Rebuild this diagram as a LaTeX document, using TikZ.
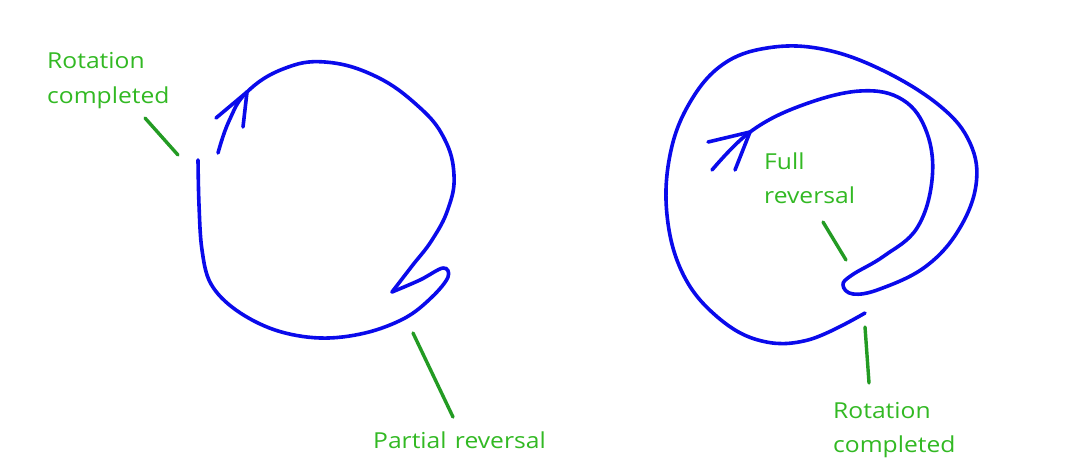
\documentclass[tikz,border=0pt]{standalone}
\usepackage{fontspec}
\setmainfont{Open Sans}[FakeStretch=1.12, WordSpace=1.3]
\definecolor{loopblue}{RGB}{10,10,235}
\definecolor{lblgreen}{RGB}{50,185,35}
\definecolor{linegreen}{RGB}{35,155,35}
\tikzset{
  loopline/.style={draw=loopblue, line width=3.6pt, line cap=round, line join=round},
  pointer/.style={draw=linegreen, line width=3.4pt, line cap=round},
  lbl/.style={text=lblgreen, font=\fontsize{22}{26}\selectfont, inner sep=0pt, anchor=base west},
}
\begin{document}
\begin{tikzpicture}[x=1pt,y=-1pt]
\useasboundingbox (0,0) rectangle (1083,475);
\fill[white] (0,0) rectangle (1083,475);

% ---------- left: partial reversal ----------
\coordinate (Ls) at (218,153);
\coordinate (Ltip) at (247,92);
\coordinate (Lz) at (392,292);
\coordinate (Le) at (198,160);
\draw[loopline] plot[smooth, tension=0.7] coordinates {
  (218,153) (229,121) (247,92) (283,69) (325,62) (375,76) (418,106)
  (444,138) (454,175) (448,209) (432,240) (412,266) (392,292)};
\draw[loopline] plot[smooth, tension=0.6] coordinates {
  (392,292) (420,280) (443,268) (448,277) (432,297) (405,318) (365,333)
  (320,338) (275,330) (236,310) (211,284) (202,250) (199,205) (198,160)};
\draw[loopline] (216,118) -- (Ltip) -- (243,127);

% ---------- right: full reversal ----------
\coordinate (Rs) at (712,170);
\coordinate (Rtip) at (750,132);
\coordinate (Re) at (865,313);
\draw[loopline] plot[smooth, tension=0.65] coordinates {
  (712,170) (750,132) (800,106) (860,91) (903,100) (927,133) (932,180)
  (917,228) (884,256) (852,275) (843,285) (853,294) (880,289) (925,267)
  (958,231) (976,185) (970,143) (940,106) (882,70) (822,49) (767,48)
  (722,65) (689,104) (670,155) (667,215) (682,272) (714,314) (758,340)
  (808,340) (865,313)};
\draw[loopline] (708,142) -- (Rtip) -- (735,170);

% ---------- labels ----------
\node[lbl] (lrot1) at (47,68) {Rotation};
\node[lbl] (lrot2) at (47,103) {completed};
\coordinate (lp1a) at (145,118);
\coordinate (lp1b) at (178,155);
\draw[pointer] (lp1a) -- (lp1b);

\node[lbl] (part) at (373,448) {Partial reversal};
\coordinate (lp2a) at (413,333);
\coordinate (lp2b) at (453,417);
\draw[pointer] (lp2a) -- (lp2b);

\node[lbl] (full1) at (764,169) {Full};
\node[lbl] (full2) at (764,203) {reversal};
\coordinate (rp1a) at (823,222);
\coordinate (rp1b) at (846,260);
\draw[pointer] (rp1a) -- (rp1b);

\node[lbl] (rrot1) at (833,418) {Rotation};
\node[lbl] (rrot2) at (833,452) {completed};
\coordinate (rp2a) at (865,327);
\coordinate (rp2b) at (869,383);
\draw[pointer] (rp2a) -- (rp2b);
\end{tikzpicture}
\end{document}
